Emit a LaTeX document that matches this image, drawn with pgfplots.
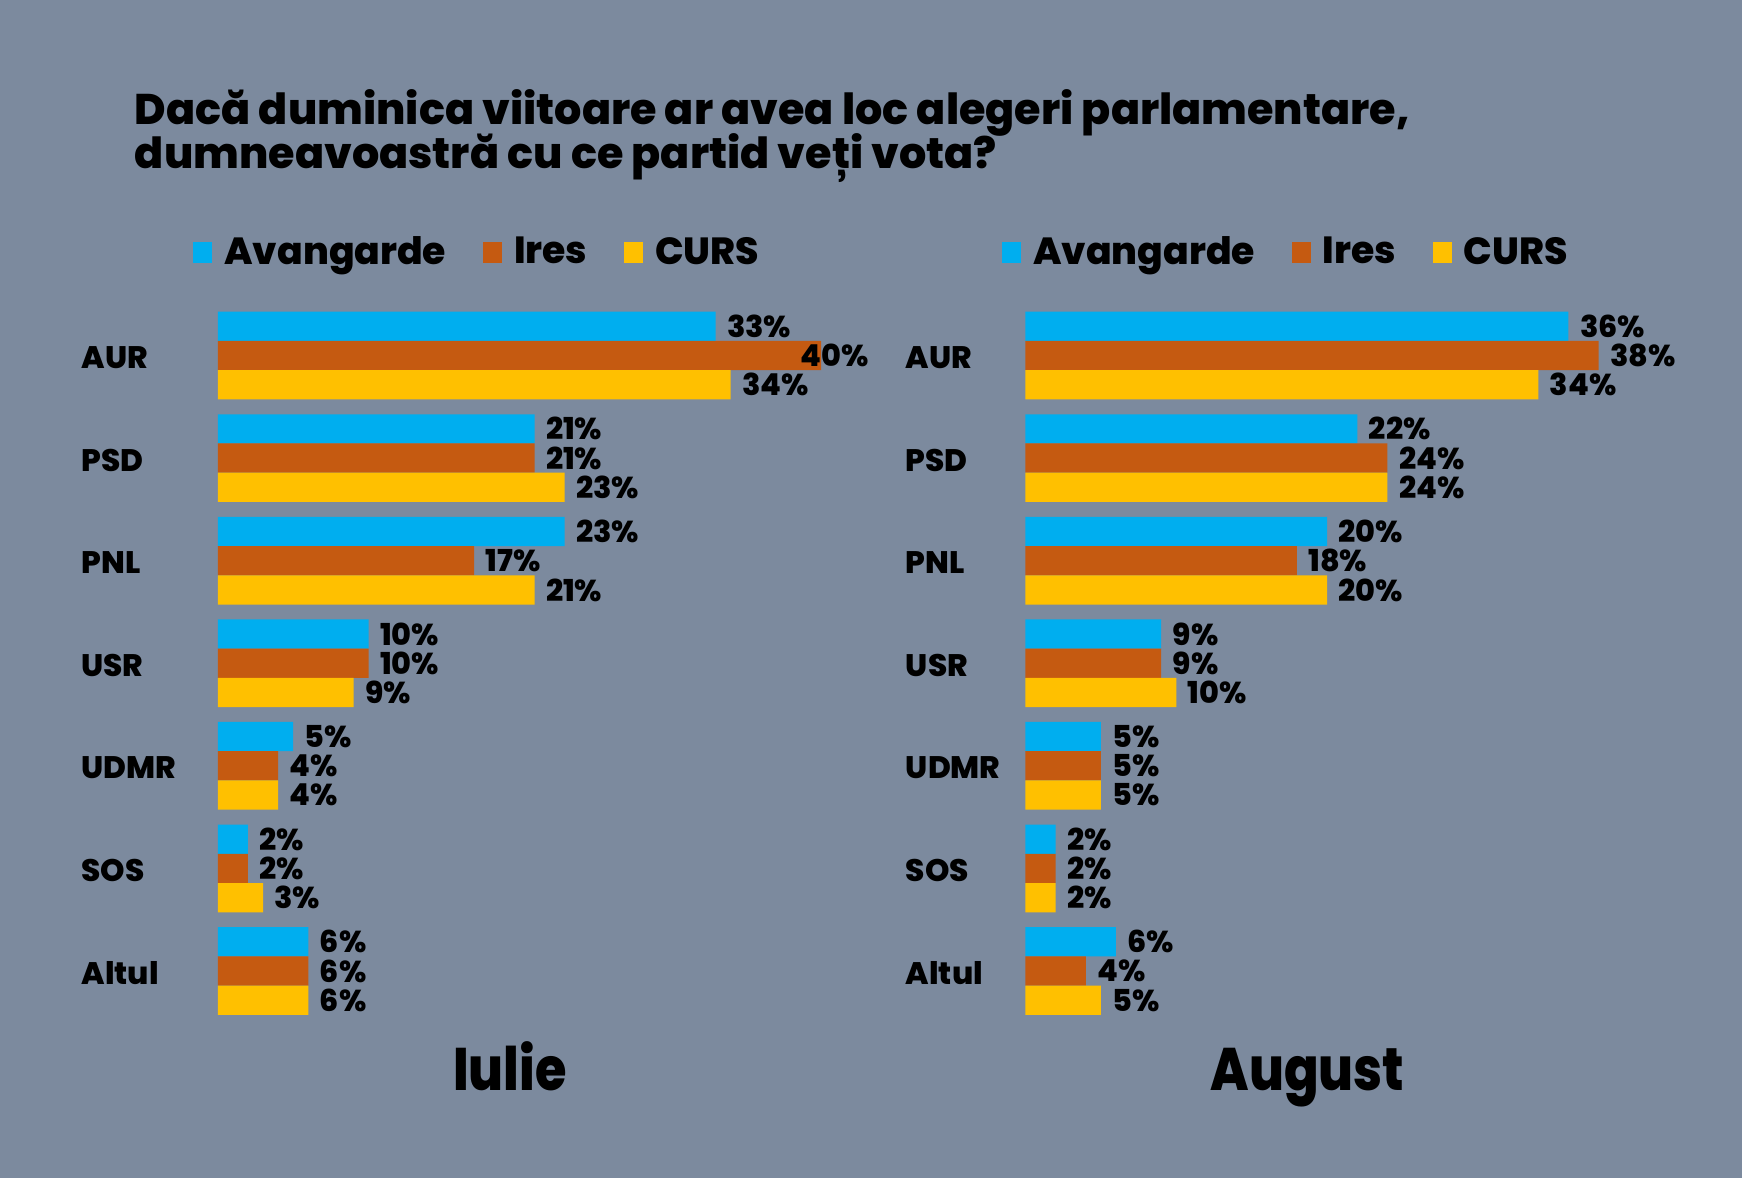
\documentclass[border=0pt]{standalone}
\usepackage{pgfplots}
\pgfplotsset{compat=1.18}
\usepackage{pgfplotstable}
\usepackage{fontspec}
\setmainfont{Poppins}[BoldFont={Poppins ExtraBold}]
\definecolor{bg}{RGB}{124,138,158}
\definecolor{cblue}{RGB}{0,174,239}
\definecolor{corange}{RGB}{197,90,17}
\definecolor{cyellow}{RGB}{255,192,0}
\newcommand\titlefont{\fontsize{19.3}{22}\selectfont\bfseries}
\newcommand\legfont{\fontsize{17}{20}\selectfont\bfseries}
\newcommand\catfont{\fontsize{14}{15}\selectfont\bfseries}
\newcommand\valfont{\fontsize{13.6}{15}\selectfont\bfseries}
\newcommand\monthfont{\fontsize{27}{30}\selectfont\bfseries}

% cat: AUR=6 ... Altul=0 ; da/db/dc = label shift in pt
\pgfplotstableread{
cat a b c da db dc
6 33 40 34 5 -9.5 5
5 21 21 23 5 5 5
4 23 17 21 5 5 5
3 10 10 9 5 5 5
2 5 4 4 5 5 5
1 2 2 3 5 5 5
0 6 6 6 5 5 5
}\iulie
\pgfplotstableread{
cat a b c da db dc
6 36 38 34 5 5 5
5 22 24 24 5 5 5
4 20 18 20 5 5 5
3 9 9 10 5 5 5
2 5 5 5 5 5 5
1 2 2 2 5 5 5
0 6 4 5 5 5 5
}\august

\pgfplotsset{
  pollbase/.style={
    scale only axis, width=305.5pt, height=323.15pt,
    xmin=0, xmax=45, ymin=-0.5, ymax=6.5,
    hide axis, clip=false,
    xbar, bar width=0.285,
    point meta=x,
    /pgf/number format/assume math mode=true,
    nodes near coords={\pgfmathprintnumber{\pgfplotspointmeta}\%},
    legend columns=3,
    legend style={draw=none, fill=none, inner sep=0pt, outer sep=0pt,
      font=\legfont, text=black,
      nodes={inner sep=0pt},
      /tikz/every odd column/.append style={column sep=5.5pt},
      /tikz/every even column/.append style={column sep=16.5pt},
      anchor=west},
    legend image code/.code={\fill[##1] (0pt,-4.75pt) rectangle (8.5pt,4.75pt);},
  },
  serA/.style={fill=cblue, draw=none, bar shift=0.285},
  serB/.style={fill=corange, draw=none, bar shift=0},
  serC/.style={fill=cyellow, draw=none, bar shift=-0.285},
  lab/.style={every node near coord/.append style={anchor=west, inner sep=0pt, font=\valfont, text=black, xshift=#1}},
}

\begin{document}
\begin{tikzpicture}
\fill[bg] (0,0) rectangle (784pt,-530pt);
\node[anchor=base west, font=\titlefont, inner sep=0pt] at (60.5pt,-56pt) {Dacă duminica viitoare ar avea loc alegeri parlamentare,};
\node[anchor=base west, font=\titlefont, inner sep=0pt] at (60.5pt,-76pt) {dumneavoastră cu ce partid veți vota?};

% ---------- Iulie ----------
\begin{axis}[pollbase, at={(98pt,-136.925pt)}, anchor=north west,
    legend style={at={(0,1)}, xshift=-11pt, yshift=23.4pt}]
\addplot[serA, visualization depends on={\thisrow{da}\as\dx}, lab=\dx pt]
  table[x=a, y=cat]{\iulie};
\addplot[serB, visualization depends on={\thisrow{db}\as\dx}, lab=\dx pt]
  table[x=b, y=cat]{\iulie};
\addplot[serC, visualization depends on={\thisrow{dc}\as\dx}, lab=\dx pt]
  table[x=c, y=cat]{\iulie};
\legend{Avangarde, Ires, CURS}
\node[anchor=west, font=\catfont, inner sep=0pt, yshift=-1pt] at ([xshift=-61.5pt]axis cs:0,6) {AUR};
\node[anchor=west, font=\catfont, inner sep=0pt, yshift=-1pt] at ([xshift=-61.5pt]axis cs:0,5) {PSD};
\node[anchor=west, font=\catfont, inner sep=0pt, yshift=-1pt] at ([xshift=-61.5pt]axis cs:0,4) {PNL};
\node[anchor=west, font=\catfont, inner sep=0pt, yshift=-1pt] at ([xshift=-61.5pt]axis cs:0,3) {USR};
\node[anchor=west, font=\catfont, inner sep=0pt, yshift=-1pt] at ([xshift=-61.5pt]axis cs:0,2) {UDMR};
\node[anchor=west, font=\catfont, inner sep=0pt, yshift=-1pt] at ([xshift=-61.5pt]axis cs:0,1) {SOS};
\node[anchor=west, font=\catfont, inner sep=0pt, yshift=-1pt] at ([xshift=-61.5pt]axis cs:0,0) {Altul};
\end{axis}

% ---------- August ----------
\begin{axis}[pollbase, at={(461.5pt,-136.925pt)}, anchor=north west,
    legend style={at={(0,1)}, xshift=-10.5pt, yshift=23.4pt}]
\addplot[serA, visualization depends on={\thisrow{da}\as\dx}, lab=\dx pt]
  table[x=a, y=cat]{\august};
\addplot[serB, visualization depends on={\thisrow{db}\as\dx}, lab=\dx pt]
  table[x=b, y=cat]{\august};
\addplot[serC, visualization depends on={\thisrow{dc}\as\dx}, lab=\dx pt]
  table[x=c, y=cat]{\august};
\legend{Avangarde, Ires, CURS}
\node[anchor=west, font=\catfont, inner sep=0pt, yshift=-1pt] at ([xshift=-54pt]axis cs:0,6) {AUR};
\node[anchor=west, font=\catfont, inner sep=0pt, yshift=-1pt] at ([xshift=-54pt]axis cs:0,5) {PSD};
\node[anchor=west, font=\catfont, inner sep=0pt, yshift=-1pt] at ([xshift=-54pt]axis cs:0,4) {PNL};
\node[anchor=west, font=\catfont, inner sep=0pt, yshift=-1pt] at ([xshift=-54pt]axis cs:0,3) {USR};
\node[anchor=west, font=\catfont, inner sep=0pt, yshift=-1pt] at ([xshift=-54pt]axis cs:0,2) {UDMR};
\node[anchor=west, font=\catfont, inner sep=0pt, yshift=-1pt] at ([xshift=-54pt]axis cs:0,1) {SOS};
\node[anchor=west, font=\catfont, inner sep=0pt, yshift=-1pt] at ([xshift=-54pt]axis cs:0,0) {Altul};
\end{axis}

\node[anchor=base, font=\monthfont, inner sep=0pt] at (229.5pt,-491pt) {\scalebox{0.85}[1]{Iulie}};
\node[anchor=base, font=\monthfont, inner sep=0pt] at (588.5pt,-491pt) {\scalebox{0.85}[1]{August}};

\pgfresetboundingbox
\path (0,0) rectangle (784pt,-530pt);
\end{tikzpicture}
\end{document}
